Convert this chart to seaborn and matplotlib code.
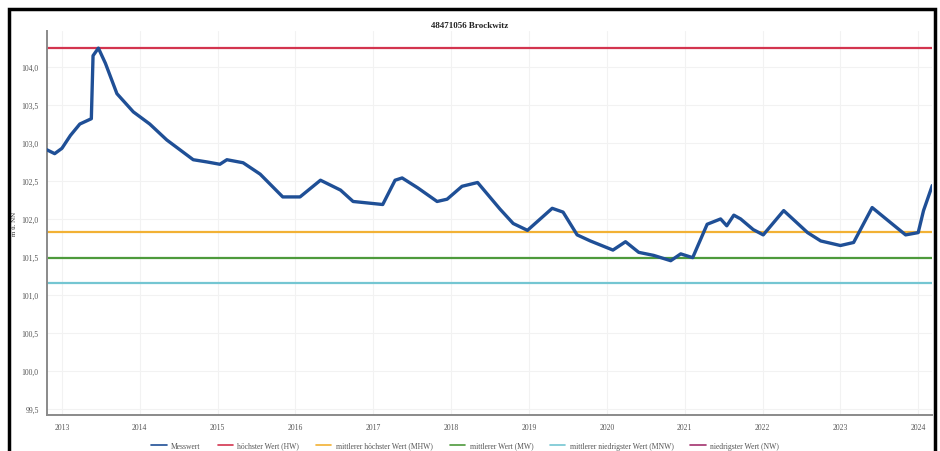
import numpy as np
import pandas as pd
import matplotlib
matplotlib.use("Agg")
import matplotlib.pyplot as plt
import matplotlib.dates as mdates
from matplotlib.patches import Rectangle
import seaborn as sns

# -----------------------------
# DATA
# -----------------------------

TITLE = "48471056 Brockwitz"
Y_LABEL = "m ü. NN"

messwert_dates = [
    "2012-10-23", "2012-11-28", "2013-01-01", "2013-02-10", "2013-03-26",
    "2013-05-19", "2013-05-27", "2013-06-21", "2013-07-24", "2013-09-16",
    "2013-12-02", "2014-02-17", "2014-05-08", "2014-07-09", "2014-09-09",
    "2014-11-14", "2015-01-12", "2015-02-14", "2015-05-01", "2015-07-20",
    "2015-11-03", "2016-01-23", "2016-04-28", "2016-07-31", "2016-09-28",
    "2017-02-14", "2017-04-13", "2017-05-16", "2017-07-28", "2017-10-27",
    "2017-12-13", "2018-02-21", "2018-05-05", "2018-08-18", "2018-10-19",
    "2018-12-25", "2019-04-20", "2019-06-10", "2019-08-15", "2019-10-16",
    "2020-01-30", "2020-03-29", "2020-05-30", "2020-08-08", "2020-10-27",
    "2020-12-13", "2021-02-07", "2021-04-16", "2021-06-18", "2021-07-17",
    "2021-08-19", "2021-09-20", "2021-11-18", "2022-01-04", "2022-04-10",
    "2022-07-31", "2022-10-01", "2023-01-01", "2023-03-04", "2023-05-30",
    "2023-08-25", "2023-11-03", "2024-01-01", "2024-01-26", "2024-03-07",
]
messwert_values = [
    102.91, 102.86, 102.93, 103.10, 103.25,
    103.32, 104.15, 104.25, 104.05, 103.65,
    103.41, 103.25, 103.04, 102.91, 102.78,
    102.75, 102.72, 102.78, 102.74, 102.59,
    102.29, 102.29, 102.51, 102.38, 102.23,
    102.19, 102.51, 102.54, 102.41, 102.23,
    102.26, 102.43, 102.48, 102.13, 101.94,
    101.85, 102.14, 102.09, 101.79, 101.71,
    101.59, 101.70, 101.56, 101.52, 101.45,
    101.54, 101.49, 101.93, 102.00, 101.91,
    102.05, 102.00, 101.86, 101.79, 102.11,
    101.82, 101.71, 101.65, 101.69, 102.15,
    101.95, 101.79, 101.82, 102.11, 102.44,
]

ref_labels = [
    "höchster Wert (HW)",
    "mittlerer höchster Wert (MHW)",
    "mittlerer Wert (MW)",
    "mittlerer niedrigster Wert (MNW)",
    "niedrigster Wert (NW)",
]
ref_values = [104.25, 101.83, 101.49, 101.15, 99.30]
ref_colors = ["#d3354f", "#f2b134", "#4e9a3c", "#74c6d2", "#a3326e"]

y_ticks = [99.5, 100.0, 100.5, 101.0, 101.5, 102.0, 102.5, 103.0, 103.5, 104.0]
years = list(range(2013, 2025))

# -----------------------------
# STYLE
# -----------------------------

sns.set_style("whitegrid")
plt.rcParams["font.family"] = ["Liberation Serif", "DejaVu Serif"]

df = pd.DataFrame({
    "Datum": pd.to_datetime(messwert_dates),
    "Wert": messwert_values,
})

fig = plt.figure(figsize=(9.4, 4.52), dpi=100)
ax = fig.add_axes([0.050, 0.080, 0.942, 0.850])

# reference lines
for label, value, color in zip(ref_labels, ref_values, ref_colors):
    ax.axhline(value, color=color, linewidth=1.6, label=label, zorder=2)

# measured series
sns.lineplot(
    data=df,
    x="Datum",
    y="Wert",
    ax=ax,
    color="#1f4f96",
    linewidth=2.4,
    label="Messwert",
    zorder=3,
)

# -----------------------------
# AXES
# -----------------------------

ax.set_xlim(pd.Timestamp("2012-10-23"), pd.Timestamp("2024-03-08"))
ax.set_ylim(99.42, 104.48)

ax.set_xticks([pd.Timestamp(f"{y}-01-01") for y in years])
ax.xaxis.set_major_formatter(mdates.DateFormatter("%Y"))
ax.set_yticks(y_ticks)
ax.set_yticklabels([f"{v:.1f}".replace(".", ",") for v in y_ticks])

ax.tick_params(axis="both", length=0, labelsize=5.5, colors="#555555", pad=6)
ax.set_xlabel("")
ax.set_ylabel(Y_LABEL, fontsize=5, labelpad=3, color="#333333")

ax.grid(True, color="#f2f2f2", linewidth=0.8)
for side in ["top", "right"]:
    ax.spines[side].set_visible(False)
for side in ["left", "bottom"]:
    ax.spines[side].set_color("#8a8a8a")
    ax.spines[side].set_linewidth(1.4)

fig.text(0.5, 0.943, TITLE, ha="center", va="center",
         fontsize=6.5, fontweight="bold", color="#222222")

# legend order: Messwert first
handles, labels = ax.get_legend_handles_labels()
order = [labels.index("Messwert")] + [labels.index(l) for l in ref_labels]
leg = fig.legend(
    [handles[i] for i in order],
    [labels[i] for i in order],
    loc="center",
    bbox_to_anchor=(0.495, 0.012),
    ncol=6,
    frameon=False,
    fontsize=5.5,
    handlelength=2.0,
    handletextpad=0.6,
    columnspacing=2.2,
)
for line in leg.get_lines():
    line.set_linewidth(1.2)
for text in leg.get_texts():
    text.set_color("#555555")
ax.get_legend().remove()

# black frame around the chart
fig.patches.append(Rectangle(
    (0.010, -0.01), 0.985, 0.988,
    transform=fig.transFigure,
    fill=False, edgecolor="black", linewidth=2.5,
))

fig.savefig("out.png", dpi=100)
